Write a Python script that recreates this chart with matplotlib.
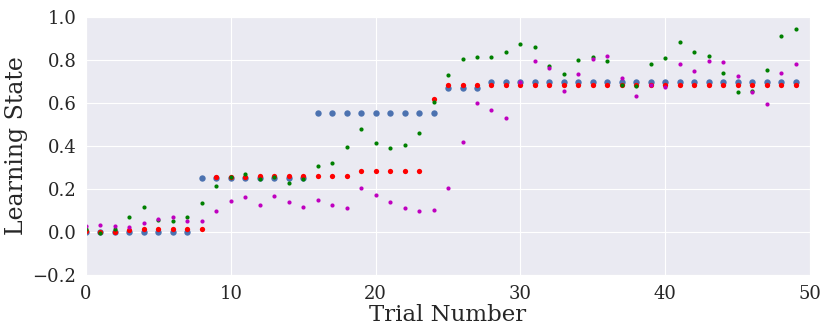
import numpy as np
import matplotlib
matplotlib.use('Agg')
import matplotlib.pyplot as plt
import seaborn as sns

# Oppimistila kokeittain (luettu kuvasta)
trials = np.arange(50)

blue_state = [0.0]*8 + [0.25]*8 + [0.555]*9 + [0.671]*3 + [0.699]*22

red_state = [0.005, 0.0, 0.0, 0.01, 0.012, 0.012, 0.012, 0.013, 0.015,
             0.256, 0.256, 0.256, 0.258, 0.258, 0.258, 0.259, 0.26, 0.26, 0.259,
             0.284, 0.284, 0.284, 0.284, 0.284, 0.62] + [0.684]*25

green_state = [0.012, -0.006, 0.012, 0.067, 0.116, 0.056, 0.051, 0.07, 0.136, 0.215,
               0.257, 0.271, 0.245, 0.256, 0.226, 0.248, 0.308, 0.322, 0.397, 0.479,
               0.414, 0.388, 0.403, 0.462, 0.606, 0.730, 0.806, 0.815, 0.812, 0.837,
               0.873, 0.859, 0.774, 0.736, 0.799, 0.815, 0.797, 0.684, 0.679, 0.783,
               0.811, 0.885, 0.839, 0.819, 0.738, 0.650, 0.657, 0.755, 0.913, 0.944]

magenta_state = [0.029, 0.032, 0.028, 0.023, 0.042, 0.06, 0.07, 0.053, 0.051, 0.098,
                 0.143, 0.163, 0.127, 0.169, 0.138, 0.118, 0.147, 0.126, 0.112, 0.202,
                 0.171, 0.14, 0.110, 0.099, 0.104, 0.202, 0.419, 0.601, 0.566, 0.532,
                 0.695, 0.797, 0.763, 0.654, 0.736, 0.805, 0.819, 0.716, 0.633, 0.682,
                 0.673, 0.78, 0.747, 0.793, 0.791, 0.726, 0.653, 0.597, 0.74, 0.78]

sns.set_style('darkgrid')
plt.rcParams['font.family'] = ['DejaVu Serif']

fig = plt.figure(figsize=(8.3, 3.32), dpi=100)
ax = fig.add_axes([0.1036, 0.172, 0.8724, 0.777])

ax.plot(trials, blue_state, 'o', color='#4C72B0', markersize=4.6, markeredgewidth=0)
ax.plot(trials, red_state, 'o', color='red', markersize=3.8, markeredgewidth=0)
ax.plot(trials, green_state, 'o', color='green', markersize=3.0, markeredgewidth=0)
ax.plot(trials, magenta_state, 'o', color='m', markersize=3.0, markeredgewidth=0)

ax.set_xlim(0, 50)
ax.set_ylim(-0.2, 1.0)
ax.set_xticks([0, 10, 20, 30, 40, 50])
ax.set_yticks([-0.2, 0.0, 0.2, 0.4, 0.6, 0.8, 1.0])
ax.tick_params(labelsize=13, colors='#262626')
ax.set_xlabel('Trial Number', fontsize=16.5, color='#262626', labelpad=1)
ax.set_ylabel('Learning State', fontsize=17, color='#262626', labelpad=3)

fig.savefig('out.png', dpi=100)
